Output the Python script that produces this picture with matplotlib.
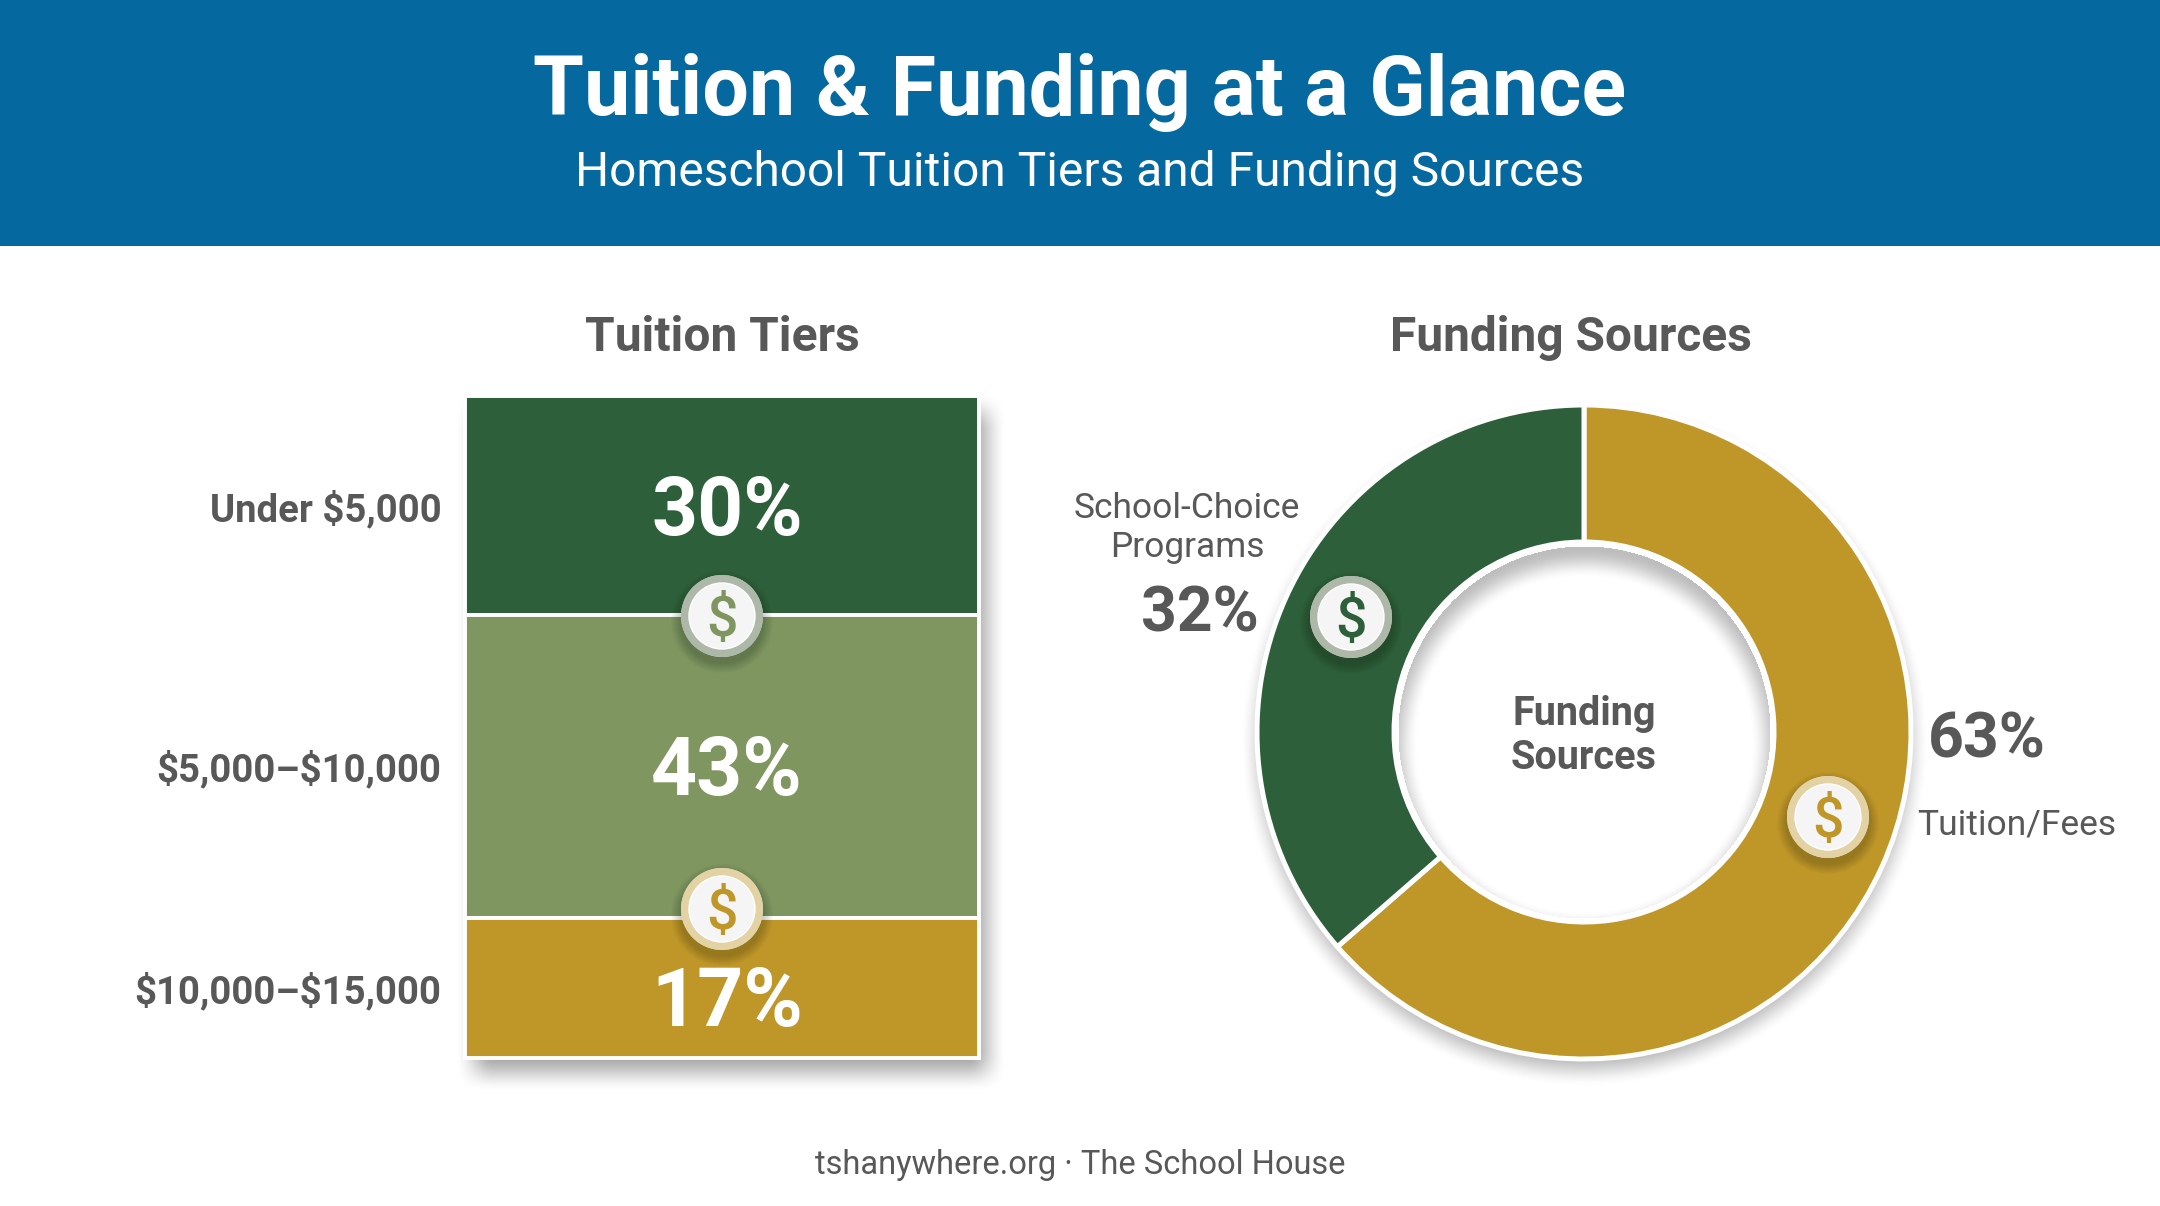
import numpy as np
import matplotlib
matplotlib.use('Agg')
import matplotlib.pyplot as plt
from matplotlib.patches import Circle, Rectangle

W, H = 2160, 1206

# data
tier_names = [r'Under \$5,000', r'\$5,000–\$10,000', r'\$10,000–\$15,000']
tier_heights = [29.8, 41.1, 19.1]   # drawn band heights as they appear
tier_labels = ['30%', '43%', '17%']
tier_colors = ['#2D5F3A', '#7F9660', '#BF9628']

funding_names = ['Tuition/Fees', 'School-Choice\nPrograms']
funding_shares = [63.6, 36.4]       # drawn wedge sizes as they appear
funding_labels = ['63%', '32%']
funding_colors = ['#BF9628', '#2D5F3A']

BLUE = '#05699F'
GREY = '#585858'

plt.rcParams['font.family'] = ['Roboto', 'DejaVu Sans']


def px_axes(fig, left, top, right, bottom, zorder):
    return fig.add_axes([left / W, 1 - bottom / H, (right - left) / W, (bottom - top) / H],
                        zorder=zorder)


def smooth(v):
    v = np.clip(v, 0, 1)
    return v * v * (3 - 2 * v)


def coin(ax, x, y, color, ring):
    for i in range(10):
        ax.add_patch(Circle((x, y + 6), 41 + 10 - i, fc='black', ec='none', alpha=0.02, zorder=5))
    ax.add_patch(Circle((x, y), 41, fc='white', ec='none', zorder=6))
    ax.add_patch(Circle((x, y), 41, fc=ring, ec='none', alpha=0.7, zorder=6))
    ax.add_patch(Circle((x, y), 33, fc='#F5F5F5', ec='white', lw=1, zorder=7))
    ax.text(x, y - 1, r'\$', color=color, fontsize=40, fontweight='medium', ha='center',
            va='center_baseline', zorder=8)


fig = plt.figure(figsize=(W / 100, H / 100), dpi=100, facecolor='white')

# background layer: header band and soft shadows
bg = fig.add_axes([0, 0, 1, 1], zorder=0)
bg.set_xlim(0, W)
bg.set_ylim(H, 0)
bg.axis('off')
bg.add_patch(Rectangle((0, 0), W, 246, fc=BLUE, ec='none'))

yy, xx = np.mgrid[0:H, 0:W]
blur = 40
sx = smooth((xx - (466 - blur / 2 + 8)) / blur) * smooth(((979 + blur / 2 + 8) - xx) / blur)
sy = smooth((yy - (397 - blur / 2 + 14)) / blur) * smooth(((1058 + blur / 2 + 14) - yy) / blur)
r_in = np.hypot(xx - 1584, yy - 732)
rr = np.hypot(xx - 1584, yy - (732 + 10))
shadow = np.zeros((H, W, 4))
shadow[..., 3] = np.maximum(0.36 * sx * sy, 0.30 * smooth((327 + 18 - rr) / 36) * (r_in > 190))
bg.imshow(shadow, extent=(0, W, H, 0), zorder=1, aspect='auto', interpolation='bilinear')
bg.set_xlim(0, W)
bg.set_ylim(H, 0)

# stacked tuition column
ax1 = px_axes(fig, 465, 396, 979, 1058, 1)
bottoms = np.cumsum([0] + tier_heights[:-1])
ax1.bar([0.5] * 3, tier_heights, width=1, bottom=bottoms, color=tier_colors,
        edgecolor='white', linewidth=2.8, clip_on=False)
ax1.set_xlim(0, 1)
ax1.set_ylim(sum(tier_heights), 0)
centers = bottoms + np.array(tier_heights) / 2
ax1.set_xticks([])
ax1.set_yticks(centers)
ax1.set_yticklabels(tier_names, fontsize=27.5, fontweight='bold', color=GREY)
ax1.tick_params(axis='y', length=0, pad=17)
for s in ax1.spines.values():
    s.set_visible(False)
ax1.patch.set_alpha(0)
for c, t, dy in zip(centers, tier_labels, [-5, -5, -12]):
    ax1.annotate(t, (0.51, c), xytext=(0, dy), textcoords='offset points', color='white',
                 fontsize=58, fontweight='bold', ha='center', va='center')

# funding donut
R = 327
ax2 = px_axes(fig, 1584 - R, 732 - R, 1584 + R, 732 + R, 1)
ax2.pie(funding_shares, colors=funding_colors, startangle=90, counterclock=False, radius=1,
        wedgeprops=dict(width=1 - 190 / R, edgecolor='white', linewidth=3.6))
ax2.set_xlim(-1, 1)
ax2.set_ylim(-1, 1)
for p in ax2.patches:
    p.set_clip_on(False)

# top layer: texts, coins
top = fig.add_axes([0, 0, 1, 1], zorder=2)
top.set_xlim(0, W)
top.set_ylim(H, 0)
top.axis('off')
top.patch.set_alpha(0)

r_off = np.hypot(xx - 1584, yy - (732 + 12))
inner = np.zeros((H, W, 4))
inner[..., 3] = 0.26 * smooth((r_off - 166) / 30) * (r_in < 186)
top.imshow(inner, extent=(0, W, H, 0), zorder=1, aspect='auto', interpolation='bilinear')
top.set_xlim(0, W)
top.set_ylim(H, 0)

top.text(1080, 92, 'Tuition & Funding at a Glance', color='white', fontsize=59.5, fontweight='bold',
         ha='center', va='center')
top.text(1080, 173, 'Homeschool Tuition Tiers and Funding Sources', color='white', fontsize=34.5,
         ha='center', va='center')
top.text(722, 338, 'Tuition Tiers', color=GREY, fontsize=34.5, fontweight='bold', ha='center', va='center')
top.text(1571, 338, 'Funding Sources', color=GREY, fontsize=34.5, fontweight='bold', ha='center', va='center')
top.text(1584, 736, 'Funding\nSources', color=GREY, fontsize=28.5, fontweight='bold', ha='center',
         va='center', linespacing=1.2)
top.text(1187, 528, funding_names[1], color=GREY, fontsize=25.5, ha='center',
         va='center', linespacing=1.25)
top.text(1200, 614, funding_labels[1], color=GREY, fontsize=45, fontweight='bold', ha='center', va='center')
top.text(1987, 741, funding_labels[0], color=GREY, fontsize=45, fontweight='bold', ha='center', va='center')
top.text(2017, 825, funding_names[0], color=GREY, fontsize=25.5, ha='center', va='center')
top.text(1080, 1165, 'tshanywhere.org · The School House', color=GREY, fontsize=23.5, ha='center', va='center')

coin(top, 722, 616, '#7F9660', '#8A9A84')
coin(top, 722, 909, '#BF9628', '#D8C07C')
coin(top, 1351, 617, '#2D5F3A', '#8A9A84')
coin(top, 1828, 817, '#BF9628', '#D8C07C')

fig.savefig('out.png', dpi=100)
